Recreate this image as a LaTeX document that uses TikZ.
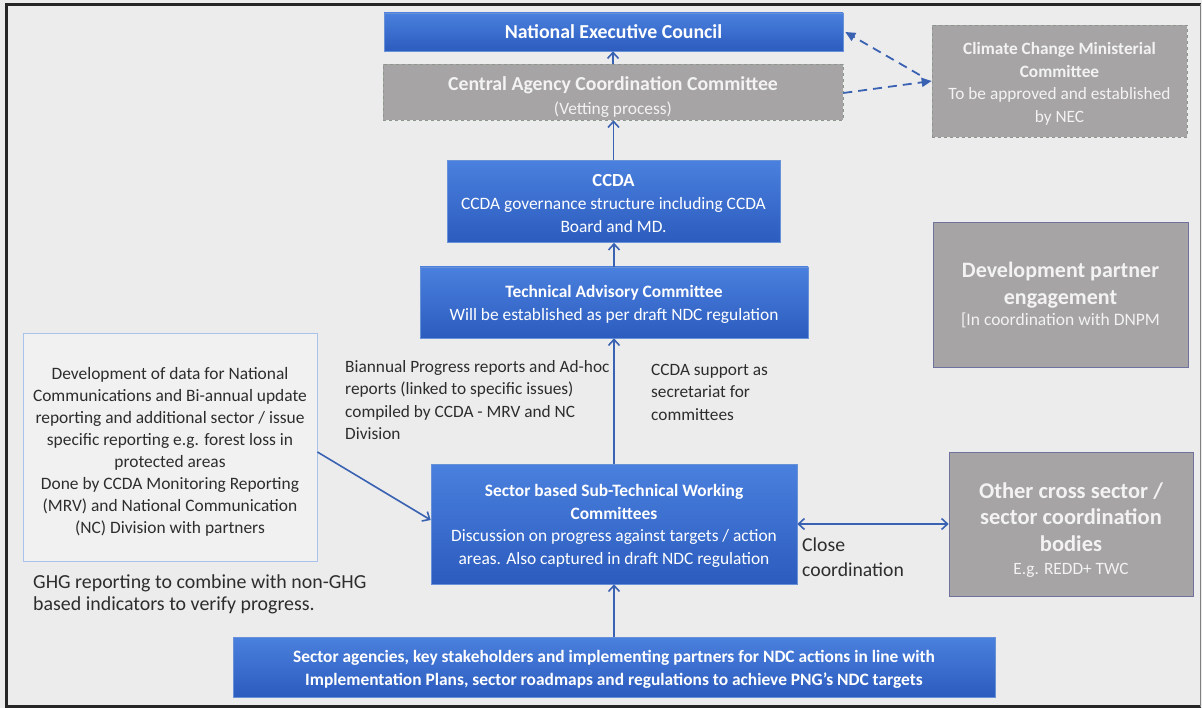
\documentclass[tikz,border=0pt]{standalone}
\usepackage{fontspec}
\setmainfont{Carlito}
\usetikzlibrary{arrows.meta}
\definecolor{bg}{RGB}{236,236,236}
\definecolor{bluetop}{RGB}{74,128,222}
\definecolor{bluebot}{RGB}{44,92,190}
\definecolor{bluebd}{RGB}{105,145,215}
\definecolor{grayfill}{RGB}{166,164,164}
\definecolor{graybd}{RGB}{140,150,140}
\definecolor{graytxt}{RGB}{243,243,243}
\definecolor{arrc}{RGB}{58,98,178}
\definecolor{darktxt}{RGB}{45,45,45}
\definecolor{leftbd}{RGB}{168,194,236}
\definecolor{leftfill}{RGB}{241,241,241}
\begin{document}
\begin{tikzpicture}[x=1pt,y=-1pt,
  bluebox/.style={draw=bluebd, line width=0.6pt, top color=bluetop, bottom color=bluebot,
    text=white, align=center, inner sep=0pt, font=\fontsize{17.4}{22.5}\selectfont},
  graybox/.style={fill=grayfill, text=graytxt, align=center, inner sep=0pt,
    font=\fontsize{17.3}{22.5}\selectfont},
  grayd/.style={graybox, draw=graybd, dashed, line width=0.6pt},
  grays/.style={graybox, draw=graybd!70!blue!60!gray, line width=0.6pt},
  fb/.style={text height=#1, text depth=0pt},
  freetext/.style={text=darktxt, align=left, inner sep=0pt, anchor=north west,
    font=\fontsize{17.3}{22.5}\selectfont},
  arr/.style={draw=arrc, line width=1.6pt, -{Straight Barb[length=6pt,width=11pt,line width=1.6pt]}},
  biarr/.style={draw=arrc, line width=1.6pt, {Straight Barb[length=6pt,width=11pt,line width=1.6pt]}-{Straight Barb[length=6pt,width=11pt,line width=1.6pt]}},
  darr/.style={draw=arrc, line width=1.8pt, dash pattern=on 9pt off 6pt, -{Triangle[length=10pt,width=9pt]}}
]
\useasboundingbox (0,0) rectangle (1202,708);
\fill[bg] (0,0) rectangle (1202,708);
\draw[black!85, line width=2.6pt] (1201,4.5) -- (6.7,4.5) -- (6.7,706.5) -- (1201,706.5);
\draw[gray, line width=1pt] (1200.5,4) -- (1200.5,707);

% boxes
\node[bluebox, minimum width=459pt, minimum height=38pt] (nec) at (613.5,32)
  {\bfseries\fontsize{19.8}{24}\selectfont National Executive Council};
\node[grayd, fb=44.8pt, minimum width=460pt, minimum height=56pt] (cacc) at (613,92)
  {{\bfseries\fontsize{19.8}{25}\selectfont Central Agency Coordination Committee}\\[1.5pt]
   {\fontsize{17.4}{24}\selectfont (Vetting process)}};
\node[grayd, fb=82.8pt, minimum width=255pt, minimum height=112pt] (ccmc) at (1059.5,81)
  {{\bfseries Climate Change Ministerial}\\{\bfseries Committee}\\To be approved and established\\by NEC};
\node[bluebox, fb=61.8pt, minimum width=333pt, minimum height=82pt] (ccda) at (613.5,201.5)
  {{\bfseries\fontsize{18.5}{23}\selectfont CCDA}\\[0.5pt]CCDA governance structure including CCDA\\[0.5pt]Board and MD.};
\node[bluebox, fb=35.8pt, minimum width=388pt, minimum height=71pt] (tac) at (614,302.5)
  {{\bfseries Technical Advisory Committee}\\Will be established as per draft NDC regulation};
\node[grays, fb=62pt, minimum width=255pt, minimum height=145pt] (dev) at (1060.5,294.5)
  {{\bfseries\fontsize{22}{29}\selectfont Development partner}\\[5pt]
   {\bfseries\fontsize{22}{28}\selectfont engagement}\\[-2pt]
   {\fontsize{17.5}{20}\selectfont [In coordination with DNPM}};
\node[draw=leftbd, fill=leftfill, line width=0.8pt, text=darktxt, align=center, inner sep=0pt,
  font=\fontsize{17.4}{22}\selectfont, fb=172.8pt, minimum width=294pt, minimum height=228pt] (left) at (170,447)
  {Development of data for National\\Communications and Bi-annual update\\reporting and additional sector / issue\\specific reporting e.g. forest loss in\\protected areas\\Done by CCDA Monitoring Reporting\\(MRV) and National Communication\\(NC) Division with partners};
\node[bluebox, fb=80.8pt, minimum width=366pt, minimum height=120pt] (sector) at (614,524)
  {{\bfseries Sector based Sub-Technical Working}\\{\bfseries Committees}\\Discussion on progress against targets / action\\areas. Also captured in draft NDC regulation};
\node[grays, fb=100.8pt, minimum width=244pt, minimum height=144pt] (other) at (1071,524)
  {{\bfseries\fontsize{22.5}{27}\selectfont Other cross sector /}\\[3.5pt]
   {\bfseries\fontsize{22.5}{27}\selectfont sector coordination}\\[4.5pt]
   {\bfseries\fontsize{22.5}{27}\selectfont bodies}\\[0.5pt]
   {\fontsize{17.3}{24}\selectfont E.g. REDD+ TWC}};
\node[bluebox, fb=36.8pt, minimum width=762pt, minimum height=60pt] (bottom) at (614,667)
  {\bfseries\fontsize{17.4}{22}\selectfont Sector agencies, key stakeholders and implementing partners for NDC actions in line with\\
   \bfseries\fontsize{17.4}{22}\selectfont Implementation Plans, sector roadmaps and regulations to achieve PNG's NDC targets};

% free texts
\node[freetext] (bian) at (345,360)
  {Biannual Progress reports and Ad-hoc\\reports (linked to specific issues)\\compiled by CCDA - MRV and NC\\Division};
\node[freetext] (supp) at (651,364)
  {CCDA support as\\secretariat for\\committees};
\node[freetext, font=\fontsize{19.7}{25}\selectfont] (close) at (802,538)
  {Close\\coordination};
\node[freetext, font=\fontsize{19.9}{22.5}\selectfont] (ghg) at (33,574)
  {GHG reporting to combine with non-GHG\\based indicators to verify progress.};

% connectors
\draw[arr] (cacc.north) -- (cacc.north |- nec.south);
\draw[arr] (ccda.north) -- (ccda.north |- cacc.south);
\draw[arr] (tac.north) -- (tac.north |- ccda.south);
\draw[arr] (sector.north) -- (sector.north |- tac.south);
\draw[arr] (bottom.north) -- (bottom.north |- sector.south);
\draw[arr] ([yshift=-5pt]left.east) -- ([yshift=4pt]sector.west);
\draw[biarr] (sector.east) -- (other.west);
\coordinate (ccin) at ([xshift=-12pt,yshift=6pt]ccmc.west);
\draw[darr] (ccin) -- ([xshift=2pt]nec.east);
\draw[darr] ([yshift=-1pt]cacc.east) -- (ccmc.west);
\end{tikzpicture}
\end{document}
